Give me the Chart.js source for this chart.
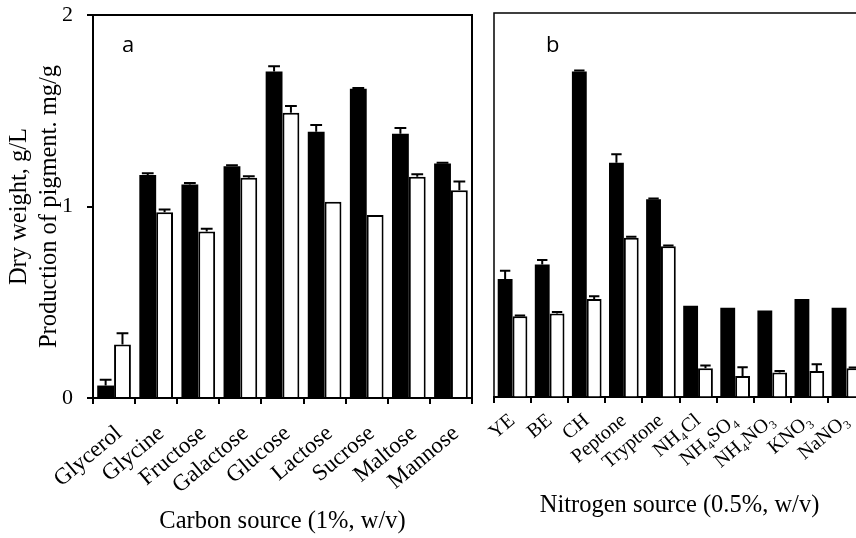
<!DOCTYPE html>
<html>
<head>
<meta charset="utf-8">
<script src="https://cdn.jsdelivr.net/npm/chart.js@4.4.1/dist/chart.umd.min.js"></script>
<style>
    html, body { margin: 0; padding: 0; width: 856px; height: 538px; overflow: hidden; background: #fff; }
    .panel { position: absolute; top: 0; }
    #panelA { left: 0; }
    #panelB { left: 480px; }
</style>
</head>
<body>
<canvas id="panelA" class="panel" width="480" height="538"></canvas>
<canvas id="panelB" class="panel" width="400" height="538"></canvas>
<script>
// Kohlenstoffquellen (1%, w/v)
const carbonLabels = ['Glycerol', 'Glycine', 'Fructose', 'Galactose', 'Glucose', 'Lactose', 'Sucrose', 'Maltose', 'Mannose'];
const carbonDryWeight = [0.065, 1.165, 1.115, 1.21, 1.705, 1.39, 1.615, 1.38, 1.225];
const carbonDryErr = [0.03, 0.008, 0.008, 0.005, 0.028, 0.035, 0.004, 0.03, 0.004];
const carbonPigment = [0.28, 0.97, 0.87, 1.15, 1.49, 1.025, 0.955, 1.155, 1.085];
const carbonPigErr = [0.058, 0.014, 0.014, 0.008, 0.035, 0, 0, 0.014, 0.045];

// Stickstoffquellen (0.5%, w/v)
const nitrogenLabels = ['YE', 'BE', 'CH', 'Peptone', 'Tryptone', 'NH\u2084Cl', 'NH\u2084SO\u2084', 'NH\u2084NO\u2083', 'KNO\u2083', 'NaNO\u2083'];
const nitrogenDryWeight = [0.615, 0.69, 1.695, 1.22, 1.03, 0.475, 0.465, 0.45, 0.51, 0.465];
const nitrogenDryErr = [0.043, 0.023, 0.005, 0.044, 0.004, 0, 0, 0, 0, 0];
const nitrogenPigment = [0.42, 0.435, 0.51, 0.83, 0.785, 0.15, 0.11, 0.127, 0.135, 0.15];
const nitrogenPigErr = [0.004, 0.008, 0.015, 0.004, 0.004, 0.014, 0.045, 0.008, 0.036, 0.004];

const yTicks = [0, 1, 2];

const serif = 'Liberation Serif';

// Fehlerbalken (nur nach oben) über jedem Balken
const errorBars = {
    id: 'errorBars',
    afterDatasetsDraw(chart) {
        const ctx = chart.ctx;
        const yScale = chart.scales.y;
        ctx.save();
        ctx.strokeStyle = '#000';
        ctx.lineWidth = 2;
        chart.data.datasets.forEach((ds, i) => {
            if (!ds.errors) return;
            chart.getDatasetMeta(i).data.forEach((bar, j) => {
                const err = ds.errors[j];
                if (!err) return;
                const yTop = yScale.getPixelForValue(ds.data[j] + err);
                const half = bar.width * 0.35;
                ctx.beginPath();
                ctx.moveTo(bar.x, bar.y);
                ctx.lineTo(bar.x, yTop);
                ctx.moveTo(bar.x - half, yTop);
                ctx.lineTo(bar.x + half, yTop);
                ctx.stroke();
            });
        });
        ctx.restore();
    }
};

// Rahmen um die Plotfläche und Panel-Buchstabe
const frame = {
    id: 'frame',
    afterDraw(chart, args, opts) {
        const { ctx, chartArea: a } = chart;
        ctx.save();
        ctx.strokeStyle = '#000';
        ctx.lineWidth = opts.lineWidth || 2;
        ctx.strokeRect(a.left, a.top, a.right - a.left, a.bottom - a.top);
        ctx.fillStyle = '#000';
        ctx.font = '22px "Open Sans"';
        ctx.textBaseline = 'alphabetic';
        ctx.fillText(opts.letter, a.left + opts.dx, a.top + opts.dy);
        ctx.restore();
    }
};

function axisGrid() {
    return { drawOnChartArea: false, drawTicks: true, tickLength: 6, color: '#000', lineWidth: 2 };
}

function makePanel(canvasId, cfg) {
    return new Chart(document.getElementById(canvasId), {
        type: 'bar',
        data: {
            labels: cfg.labels,
            datasets: [
                { label: 'Dry weight', data: cfg.dry, errors: cfg.dryErr, backgroundColor: '#000', borderColor: '#000', borderWidth: 0 },
                { label: 'Pigment', data: cfg.pig, errors: cfg.pigErr, backgroundColor: '#fff', borderColor: '#000', borderWidth: 2 }
            ]
        },
        options: {
            responsive: false,
            animation: false,
            devicePixelRatio: 1,
            categoryPercentage: 0.8,
            barPercentage: 1.0,
            layout: { padding: cfg.padding },
            plugins: {
                legend: { display: false },
                tooltip: { enabled: false },
                frame: cfg.frame
            },
            scales: {
                x: {
                    grid: axisGrid(),
                    border: { color: '#000', width: 2 },
                    ticks: {
                        color: '#000', font: { family: serif, size: cfg.tickSize },
                        minRotation: 40, maxRotation: 40, autoSkip: false,
                        padding: cfg.tickPad, labelOffset: cfg.labelShift
                    },
                    title: {
                        display: true, text: cfg.xTitle, color: '#000',
                        font: { family: serif, size: 24.5, lineHeight: 1.2 },
                        padding: { top: 0, bottom: cfg.titleBottom }
                    },
                    afterFit: s => {
                        s.height = cfg.xHeight;
                        s.paddingLeft = 0;
                        s.paddingRight = 0;
                    }
                },
                y: {
                    display: cfg.showY,
                    min: 0, max: 2,
                    afterBuildTicks: s => { s.ticks = yTicks.map(v => ({ value: v })); },
                    grid: axisGrid(),
                    border: { color: '#000', width: 2 },
                    ticks: { color: '#000', font: { family: serif, size: 22 }, padding: 14 },
                    title: {
                        display: cfg.showY,
                        text: ['Dry weight, g/L', 'Production of pigment. mg/g'],
                        color: '#000',
                        font: { family: serif, size: 24.5, lineHeight: 1.22 },
                        padding: { top: 5, bottom: 0 }
                    },
                    afterFit: s => {
                        if (!cfg.showY) return;
                        s.width = 93;
                        s.paddingTop = 12;
                        s.paddingBottom = 12;
                    }
                }
            }
        },
        plugins: [errorBars, frame]
    });
}

function main() {
    makePanel('panelA', {
        labels: carbonLabels,
        dry: carbonDryWeight, dryErr: carbonDryErr,
        pig: carbonPigment, pigErr: carbonPigErr,
        xTitle: 'Carbon source (1%, w/v)',
        tickSize: 23,
        tickPad: 16,
        labelShift: 5,
        titleBottom: 2,
        xHeight: 140,
        showY: true,
        padding: { top: 15, right: 8, left: 0, bottom: 0 },
        frame: { letter: 'a', dx: 29, dy: 37, lineWidth: 2 }
    });
    makePanel('panelB', {
        labels: nitrogenLabels,
        dry: nitrogenDryWeight, dryErr: nitrogenDryErr,
        pig: nitrogenPigment, pigErr: nitrogenPigErr,
        xTitle: 'Nitrogen source (0.5%, w/v)',
        tickSize: 20,
        tickPad: 6,
        labelShift: 0,
        titleBottom: 18,
        xHeight: 141,
        showY: false,
        padding: { top: 13, right: 15, left: 14, bottom: 0 },
        frame: { letter: 'b', dx: 52, dy: 39, lineWidth: 1.5 }
    });
}

window.addEventListener('DOMContentLoaded', main);
</script>
</body>
</html>
